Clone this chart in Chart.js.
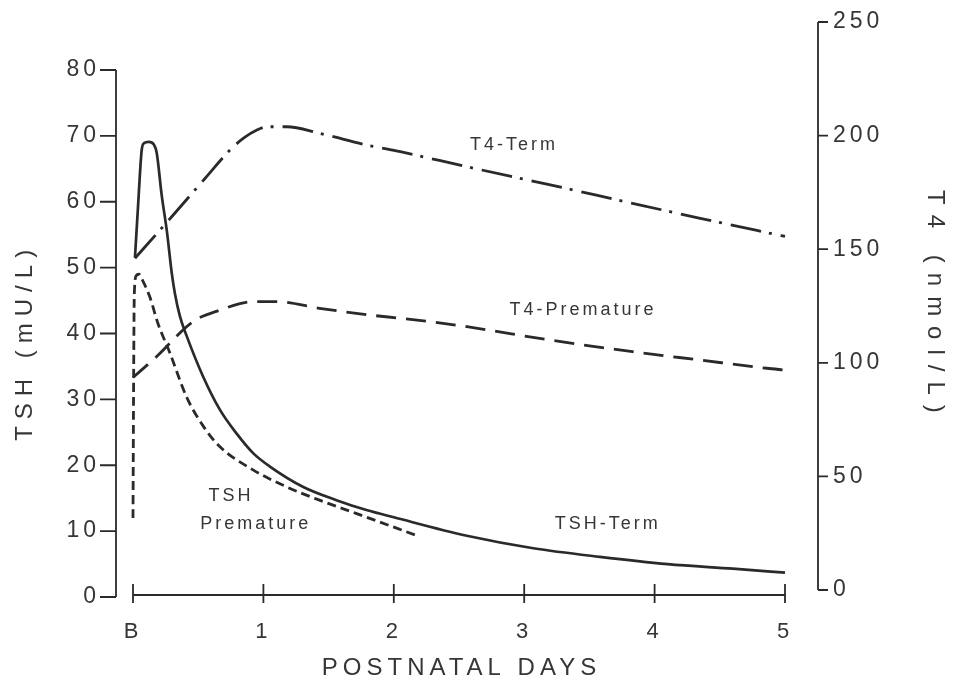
<!DOCTYPE html>
<html>
<head>
<meta charset="utf-8">
<script src="https://cdn.jsdelivr.net/npm/chart.js@4.4.1/dist/chart.umd.min.js"></script>
<style>
  html, body { margin: 0; padding: 0; background: #ffffff; }
  #wrap { width: 956px; height: 683px; position: relative; }
</style>
</head>
<body>
<div id="wrap"><canvas id="c" width="956" height="683"></canvas></div>
<script>
// ---- data ----
const xTickValues = [0, 1, 2, 3, 4, 5];
const xTickLabels = ['B', '1', '2', '3', '4', '5'];
const tshTicks = [0, 10, 20, 30, 40, 50, 60, 70, 80];
const t4Ticks = [0, 50, 100, 150, 200, 250];

const xTitle = 'POSTNATAL DAYS';
const leftTitle = 'TSH (mU/L)';
const rightTitle = 'T4 (nmol/L)';

const tshTermDays   = [0.015, 0.04, 0.067, 0.085, 0.12, 0.16, 0.182, 0.22, 0.26, 0.297, 0.322, 0.36, 0.412, 0.539, 0.667, 0.795, 0.923, 1.05, 1.306, 1.56, 1.79, 2.00, 2.56, 3.07, 3.58, 4.10, 4.60, 5.00];
const tshTermValues = [51.5, 59.8, 67.9, 68.9, 69.1, 68.7, 67.4, 61.0, 55.5, 49.2, 46.0, 42.6, 39.6, 33.4, 28.4, 24.8, 21.8, 19.8, 16.7, 14.7, 13.2, 12.1, 9.3, 7.4, 6.1, 5.0, 4.3, 3.7];

const tshPremDays   = [0, 0.004, 0.010, 0.025, 0.045, 0.08, 0.13, 0.19, 0.284, 0.41, 0.54, 0.667, 0.92, 1.18, 1.43, 1.71, 2.18];
const tshPremValues = [12.0, 30.0, 46.0, 48.8, 49.0, 47.8, 45.5, 41.6, 37.0, 30.4, 25.9, 22.8, 19.3, 16.7, 14.7, 12.7, 9.3];

const t4TermDays   = [0.015, 0.30, 0.55, 0.75, 0.85, 0.95, 1.03, 1.18, 1.43, 1.79, 2.05, 2.56, 3.20, 3.83, 4.35, 5.00];
const t4TermValues = [146, 164.5, 181, 194, 199, 202.5, 203.9, 203.9, 201, 195.9, 192.9, 186.3, 178.3, 170.2, 163.6, 155.6];

const t4PremDays   = [0, 0.18, 0.46, 0.667, 0.92, 1.10, 1.43, 1.82, 2.05, 2.28, 2.56, 3.20, 3.83, 4.35, 4.86, 5.00];
const t4PremValues = [93.5, 102.7, 118.1, 123.2, 126.9, 126.9, 124, 121, 119.6, 118.1, 115.9, 110, 104.9, 101.2, 97.6, 96.8];

// curve labels: text, axis, day, value
const curveLabelTexts  = ['T4-Term', 'T4-Premature', 'TSH-Term', 'TSH', 'Premature'];
const curveLabelAxes   = ['yR', 'yR', 'yL', 'yL', 'yL'];
const curveLabelDays   = [2.91, 3.44, 3.63, 0.74, 0.93];
const curveLabelValues = [195.9, 123.2, 11.1, 15.3, 11.1];

// ---- styling ----
const INK = '#2a2a2a';
const TEXT = '#363636';
const FONT = '"Liberation Sans", "DejaVu Sans", Arial, sans-serif';

function pts(xs, ys) { return xs.map((x, i) => ({ x: x, y: ys[i] })); }

function spacedText(ctx, text, cx, cy, rot, spacing, size) {
  ctx.save();
  ctx.letterSpacing = spacing + 'px';
  ctx.font = size + 'px ' + FONT;
  ctx.fillStyle = TEXT;
  ctx.textAlign = 'center';
  ctx.textBaseline = 'middle';
  ctx.translate(cx, cy);
  ctx.rotate(rot);
  ctx.fillText(text, spacing / 2, 0);
  ctx.restore();
}

const axisPlugin = {
  id: 'handAxes',
  beforeDraw(chart) {
    chart.ctx.letterSpacing = '4px';
  },
  beforeDatasetsDraw(chart) {
    const ctx = chart.ctx;
    const x = chart.scales.x, yL = chart.scales.yL, yR = chart.scales.yR;
    const a = chart.chartArea;
    ctx.save();
    ctx.strokeStyle = INK;
    ctx.lineWidth = 1.8;
    ctx.lineCap = 'butt';
    // left axis
    ctx.beginPath();
    ctx.moveTo(a.left, yL.getPixelForValue(tshTicks[tshTicks.length - 1]));
    ctx.lineTo(a.left, yL.getPixelForValue(0));
    tshTicks.forEach(v => {
      const py = yL.getPixelForValue(v);
      ctx.moveTo(a.left - 16, py);
      ctx.lineTo(a.left, py);
    });
    // right axis
    ctx.moveTo(a.right, yR.getPixelForValue(t4Ticks[t4Ticks.length - 1]));
    ctx.lineTo(a.right, yR.getPixelForValue(0));
    t4Ticks.forEach(v => {
      const py = yR.getPixelForValue(v);
      ctx.moveTo(a.right, py);
      ctx.lineTo(a.right + 10, py);
    });
    // x axis
    const ay = yL.getPixelForValue(0) - 2;
    ctx.moveTo(x.getPixelForValue(xTickValues[0]), ay);
    ctx.lineTo(x.getPixelForValue(xTickValues[xTickValues.length - 1]), ay);
    xTickValues.forEach(v => {
      const px = x.getPixelForValue(v);
      ctx.moveTo(px, ay - 11);
      ctx.lineTo(px, ay + 8);
    });
    ctx.stroke();
    ctx.restore();

    // axis titles
    spacedText(ctx, leftTitle, 25, yL.getPixelForValue(38.2), -Math.PI / 2, 7, 24);
    spacedText(ctx, rightTitle, 935, yR.getPixelForValue(127), Math.PI / 2, 10, 24);
    spacedText(ctx, xTitle, x.getPixelForValue(2.5), 668, 0, 5, 24);
  },
  afterDatasetsDraw(chart) {
    const ctx = chart.ctx;
    curveLabelTexts.forEach((t, i) => {
      const px = chart.scales.x.getPixelForValue(curveLabelDays[i]);
      const py = chart.scales[curveLabelAxes[i]].getPixelForValue(curveLabelValues[i]);
      spacedText(ctx, t, px, py, 0, 3, 18);
    });
  }
};

const lineBase = {
  pointRadius: 0,
  pointHoverRadius: 0,
  borderColor: INK,
  borderWidth: 2.8,
  fill: false,
  cubicInterpolationMode: 'monotone',
  borderCapStyle: 'butt'
};

new Chart(document.getElementById('c'), {
  type: 'line',
  data: {
    datasets: [
      Object.assign({}, lineBase, { label: 'TSH-Term', data: pts(tshTermDays, tshTermValues), yAxisID: 'yL', borderWidth: 2.7 }),
      Object.assign({}, lineBase, { label: 'TSH Premature', data: pts(tshPremDays, tshPremValues), yAxisID: 'yL', borderDash: [9, 5] }),
      Object.assign({}, lineBase, { label: 'T4-Term', data: pts(t4TermDays, t4TermValues), yAxisID: 'yR', borderDash: [31, 8, 3, 9] }),
      Object.assign({}, lineBase, { label: 'T4-Premature', data: pts(t4PremDays, t4PremValues), yAxisID: 'yR', borderDash: [20, 10] })
    ]
  },
  options: {
    responsive: false,
    animation: false,
    events: [],
    layout: { padding: { top: 22, left: 0, right: 0, bottom: 0 } },
    plugins: { legend: { display: false }, tooltip: { enabled: false } },
    scales: {
      x: {
        type: 'linear',
        min: -0.1304,
        max: 5.253,
        grid: { display: false, drawTicks: false },
        border: { display: false },
        afterBuildTicks: s => { s.ticks = xTickValues.map(v => ({ value: v })); },
        afterFit: s => { s.height = 86; },
        ticks: {
          color: TEXT,
          padding: 22,
          maxRotation: 0,
          font: { family: FONT, size: 22 },
          callback: v => xTickLabels[xTickValues.indexOf(v)]
        },
        title: { display: false }
      },
      yL: {
        type: 'linear',
        position: 'left',
        min: 0,
        max: 87.29,
        grid: { display: false, drawTicks: false },
        border: { display: false },
        afterBuildTicks: s => { s.ticks = tshTicks.map(v => ({ value: v })); },
        afterFit: s => { s.width = 116; },
        ticks: { color: TEXT, padding: 16, font: { family: FONT, size: 23, lineHeight: 0.5 } },
        title: { display: false }
      },
      yR: {
        type: 'linear',
        position: 'right',
        min: -3.08,
        max: 250,
        grid: { display: false, drawTicks: false },
        border: { display: false },
        afterBuildTicks: s => { s.ticks = t4Ticks.map(v => ({ value: v })); },
        afterFit: s => { s.width = 138; },
        ticks: { color: TEXT, padding: 15, font: { family: FONT, size: 23, lineHeight: 0.5 } },
        title: { display: false }
      }
    }
  },
  plugins: [axisPlugin]
});
</script>
</body>
</html>
